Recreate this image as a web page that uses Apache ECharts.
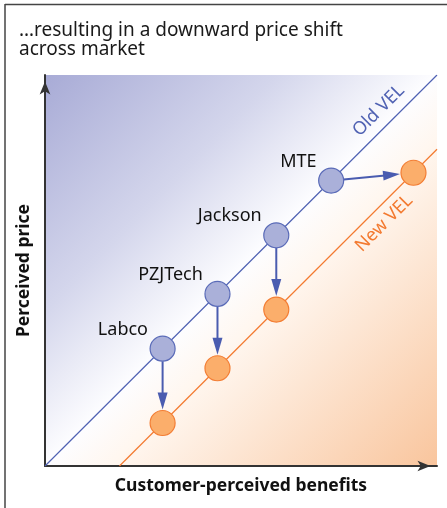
<!DOCTYPE html>
<html><head><meta charset="utf-8">
<script src="https://cdn.jsdelivr.net/npm/echarts@6/dist/echarts.min.js"></script>
<style>html,body{margin:0;padding:0;background:#fff}#c{width:447px;height:508px}</style>
</head><body><div id="c"></div>
<script>
// ---- data ----
const companies = ['Labco', 'PZJTech', 'Jackson', 'MTE'];
const oldBenefit = [3.0, 4.4, 5.9, 7.3];
const oldPrice   = [3.0, 4.4, 5.9, 7.3];
const newBenefit = [3.0, 4.4, 5.9, 9.4];
const newPrice   = [1.1, 2.5, 4.0, 7.5];
const oldVEL = [[0, 0], [10, 10]];
const newVEL = [[1.9, 0], [10, 8.1]];
const titleLines = ['\u2026resulting in a downward price shift', 'across market'];
const xName = 'Customer-perceived benefits';
const yName = 'Perceived price';
const oldVELName = 'Old VEL';
const newVELName = 'New VEL';

// ---- chart ----
const FONT = 'Noto Sans';
const BLUE_LINE = '#5062b3';
const ORANGE_LINE = '#f37a30';
const chart = echarts.init(document.getElementById('c'), null, {renderer: 'canvas'});

const oldPts = companies.map((n, i) => ({name: n, value: [oldBenefit[i], oldPrice[i]]}));
const newPts = companies.map((n, i) => ({name: n, value: [newBenefit[i], newPrice[i]]}));
const arrows = companies.map((n, i) => [oldBenefit[i], oldPrice[i], newBenefit[i], newPrice[i]]);
const R = 12.5;

function pointOnLine(line, t) {
  return [line[0][0] + (line[1][0] - line[0][0]) * t, line[0][1] + (line[1][1] - line[0][1]) * t];
}

const option = {
  animation: false,
  backgroundColor: '#ffffff',
  title: {
    text: titleLines.join('\n'),
    left: 19, top: 21, padding: 0,
    textStyle: {fontFamily: FONT, fontSize: 19, fontWeight: 'normal', color: '#1a1a1a', lineHeight: 19}
  },
  grid: {
    left: 45, top: 75, width: 392, height: 391, show: true, borderWidth: 0,
    backgroundColor: new echarts.graphic.LinearGradient(0, 0, 1, 1, [
      {offset: 0, color: '#a8abd6'},
      {offset: 0.3, color: '#d4d6ec'},
      {offset: 0.5, color: '#fdfdff'},
      {offset: 0.58, color: '#fff7f0'},
      {offset: 1, color: '#f9c59d'}
    ])
  },
  xAxis: {
    type: 'value', min: 0, max: 10,
    name: xName, nameLocation: 'middle', nameGap: 11,
    nameTextStyle: {fontFamily: FONT, fontSize: 17.5, fontWeight: 'bold', color: '#111', verticalAlign: 'top'},
    axisLine: {show: true, symbol: ['none', 'arrow'], symbolSize: [8, 13], symbolOffset: [0, -6.5],
      lineStyle: {color: '#333', width: 2}},
    axisTick: {show: false}, axisLabel: {show: false}, splitLine: {show: false}
  },
  yAxis: {
    type: 'value', min: 0, max: 10,
    name: yName, nameLocation: 'middle', nameGap: 12,
    nameTextStyle: {fontFamily: FONT, fontSize: 17.5, fontWeight: 'bold', color: '#111'},
    axisLine: {show: true, symbol: ['none', 'arrow'], symbolSize: [8, 13], symbolOffset: [0, -6.5],
      lineStyle: {color: '#333', width: 2}},
    axisTick: {show: false}, axisLabel: {show: false}, splitLine: {show: false}
  },
  series: [
    {
      type: 'line', data: oldVEL, showSymbol: false, z: 2, silent: true,
      lineStyle: {color: BLUE_LINE, width: 1.2},
      markPoint: {
        symbol: 'circle', symbolSize: 2, itemStyle: {color: 'rgba(0,0,0,0)'},
        data: [{coord: pointOnLine(oldVEL, 0.88)}],
        label: {show: true, formatter: oldVELName, position: 'inside', rotate: 45, offset: [0, -16],
          fontFamily: FONT, fontSize: 18, color: BLUE_LINE}
      }
    },
    {
      type: 'line', data: newVEL, showSymbol: false, z: 2, silent: true,
      lineStyle: {color: ORANGE_LINE, width: 1.2},
      markPoint: {
        symbol: 'circle', symbolSize: 2, itemStyle: {color: 'rgba(0,0,0,0)'},
        data: [{coord: pointOnLine(newVEL, 0.8)}],
        label: {show: true, formatter: newVELName, position: 'inside', rotate: 45, offset: [0, 15],
          fontFamily: FONT, fontSize: 18, color: ORANGE_LINE}
      }
    },
    {
      type: 'custom', z: 3, data: arrows,
      renderItem: function (params, api) {
        const p1 = api.coord([api.value(0), api.value(1)]);
        const p2 = api.coord([api.value(2), api.value(3)]);
        const dx = p2[0] - p1[0], dy = p2[1] - p1[1];
        const len = Math.sqrt(dx * dx + dy * dy);
        const ux = dx / len, uy = dy / len;
        const s = [p1[0] + ux * R, p1[1] + uy * R];
        const tip = [p2[0] - ux * (R + 1), p2[1] - uy * (R + 1)];
        const HL = 17, HW = 5;
        const base = [tip[0] - ux * HL, tip[1] - uy * HL];
        const px = -uy, py = ux;
        return {
          type: 'group',
          children: [
            {type: 'line', shape: {x1: s[0], y1: s[1], x2: base[0] + ux * 2, y2: base[1] + uy * 2},
              style: {stroke: '#4a5cb0', lineWidth: 2}},
            {type: 'polygon', shape: {points: [tip, [base[0] + px * HW, base[1] + py * HW], [base[0] - px * HW, base[1] - py * HW]]},
              style: {fill: '#4a5cb0'}}
          ]
        };
      }
    },
    {
      type: 'scatter', data: oldPts, symbolSize: 25, z: 4,
      itemStyle: {color: '#aab0d9', borderColor: '#5a6bb8', borderWidth: 1.2, opacity: 1},
      label: {show: true, formatter: '{b}', position: 'left', distance: 1.5, offset: [0, -19],
        fontFamily: FONT, fontSize: 18, color: '#111'}
    },
    {
      type: 'scatter', data: newPts, symbolSize: 25, z: 4,
      itemStyle: {color: '#fbae6b', borderColor: '#f37d33', borderWidth: 1.2, opacity: 1}
    }
  ],
  graphic: [
    {type: 'line', shape: {x1: 5, y1: 4.5, x2: 447, y2: 4.5}, style: {stroke: '#444', lineWidth: 1.5}, z: 100},
    {type: 'line', shape: {x1: 5, y1: 4, x2: 5, y2: 508}, style: {stroke: '#444', lineWidth: 1.5}, z: 100}
  ]
};
chart.setOption(option);
</script>
</body></html>
